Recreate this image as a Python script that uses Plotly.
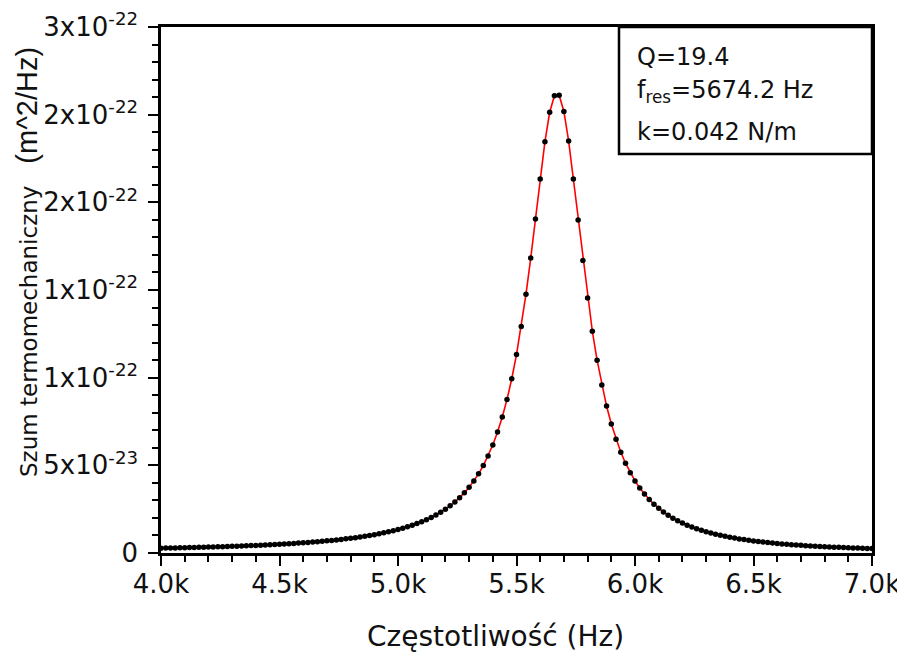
import plotly.graph_objects as go

# ---------------- data ----------------
freq_hz = list(range(4000, 7001, 20))  # sampling grid, 20 Hz step
psd_e22 = [
    0.0274, 0.0279, 0.0285, 0.0291, 0.0297, 0.0303, 0.0310, 0.0316, 0.0323, 0.0331,
    0.0338, 0.0346, 0.0354, 0.0363, 0.0372, 0.0381, 0.0391, 0.0401, 0.0411, 0.0422,
    0.0434, 0.0446, 0.0458, 0.0471, 0.0485, 0.0500, 0.0515, 0.0531, 0.0548, 0.0565,
    0.0584, 0.0603, 0.0624, 0.0646, 0.0669, 0.0694, 0.0720, 0.0747, 0.0777, 0.0808,
    0.0841, 0.0876, 0.0914, 0.0955, 0.0998, 0.1045, 0.1095, 0.1149, 0.1207, 0.1270,
    0.1338, 0.1412, 0.1493, 0.1581, 0.1677, 0.1782, 0.1898, 0.2025, 0.2166, 0.2323,
    0.2497, 0.2691, 0.2908, 0.3154, 0.3431, 0.3745, 0.4102, 0.4514, 0.4987, 0.5529,
    0.6161, 0.6895, 0.7753, 0.8761, 0.9938, 1.1317, 1.2918, 1.4755, 1.6819, 1.9051,
    2.1334, 2.3462, 2.5136, 2.6082, 2.6109, 2.5184, 2.3496, 2.1332, 1.8987, 1.6679,
    1.4546, 1.2647, 1.0999, 0.9583, 0.8380, 0.7357, 0.6490, 0.5751, 0.5120, 0.4579,
    0.4113, 0.3710, 0.3359, 0.3053, 0.2785, 0.2548, 0.2339, 0.2154, 0.1988, 0.1840,
    0.1707, 0.1588, 0.1480, 0.1382, 0.1293, 0.1212, 0.1138, 0.1070, 0.1008, 0.0951,
    0.0899, 0.0850, 0.0805, 0.0764, 0.0725, 0.0689, 0.0656, 0.0625, 0.0596, 0.0569,
    0.0543, 0.0519, 0.0497, 0.0476, 0.0456, 0.0438, 0.0420, 0.0403, 0.0388, 0.0373,
    0.0359, 0.0345, 0.0333, 0.0321, 0.0309, 0.0299, 0.0288, 0.0279, 0.0269, 0.0260,
    0.0252,
]
SCALE = 1e-22
psd = [v * SCALE for v in psd_e22]

x_tickvals = [4000, 4500, 5000, 5500, 6000, 6500, 7000]
x_ticktext = ["4.0k", "4.5k", "5.0k", "5.5k", "6.0k", "6.5k", "7.0k"]
y_tickvals = [0, 5e-23, 1e-22, 1.5e-22, 2e-22, 2.5e-22, 3e-22]
y_ticktext = ["0", "5x10<sup>-23</sup>", "1x10<sup>-22</sup>", "1x10<sup>-22</sup>",
              "2x10<sup>-22</sup>", "2x10<sup>-22</sup>", "3x10<sup>-22</sup>"]

info_lines = ["Q=19.4", "f<sub>res</sub>=5674.2 Hz", "k=0.042 N/m"]

# ---------------- geometry (page pixels; page body has an 8px margin) ----------------
OFF = 8
W, H = 905 - OFF, 658 - OFF
PL, PR, PT, PB = 161, 872, 27, 553          # plot area in page pixels
L, T = PL - OFF, PT - OFF
R, B = W - (PR - OFF), H - (PB - OFF)
PW, PH = PR - PL, PB - PT

def px(xp):
    return (xp - PL) / PW

def py(yp):
    return (PB - yp) / PH

DEJAVU = "DejaVu Sans, Verdana, sans-serif"
INK = "#111111"

fig = go.Figure()
fig.add_trace(go.Scatter(x=freq_hz, y=psd, mode="lines",
                         line=dict(color="#ff0000", width=1.6),
                         hoverinfo="skip", showlegend=False))
fig.add_trace(go.Scatter(x=freq_hz, y=psd, mode="markers",
                         marker=dict(color="black", size=5.5),
                         showlegend=False))

axis_common = dict(showline=True, linecolor="black", linewidth=2.5, mirror=True,
                   ticks="outside", ticklen=10, tickwidth=2, tickcolor="black",
                   showgrid=False, zeroline=False, ticklabeloverflow="allow",
                   automargin=False,
                   tickfont=dict(family=DEJAVU, size=26, color=INK))

fig.update_xaxes(range=[4000, 7000], tickmode="array", tickvals=x_tickvals,
                 ticktext=x_ticktext, ticklabelstandoff=-4,
                 minor=dict(ticks="outside", ticklen=6, tickwidth=2, tickcolor="black",
                            dtick=100, tick0=4000, showgrid=False),
                 **axis_common)
fig.update_yaxes(range=[0, 3e-22], tickmode="array", tickvals=y_tickvals,
                 ticktext=y_ticktext, ticklabelstandoff=5,
                 minor=dict(ticks="outside", ticklen=6, tickwidth=2, tickcolor="black",
                            dtick=1e-23, tick0=0, showgrid=False),
                 **axis_common)

# info box
fig.add_shape(type="rect", xref="paper", yref="paper",
              x0=px(619), x1=1, y0=py(154), y1=1,
              line=dict(color="black", width=2.5), fillcolor="white", layer="above")
for txt, yc in zip(info_lines, [57, 91, 132]):
    fig.add_annotation(text=txt, xref="paper", yref="paper", x=px(635), y=py(yc),
                       xanchor="left", yanchor="middle", showarrow=False,
                       font=dict(family=DEJAVU, size=24, color=INK))

# axis titles
fig.add_annotation(text="Częstotliwość (Hz)", xref="paper", yref="paper",
                   x=px(495), y=py(636), xanchor="center", yanchor="middle",
                   showarrow=False, font=dict(family=DEJAVU, size=28, color=INK))
fig.add_annotation(text="Szum termomechaniczny&nbsp;&nbsp;&nbsp;"
                        "<span style='font-family:Liberation Sans, Arial;font-size:29px'>(m^2/Hz)</span>",
                   xref="paper", yref="paper", x=px(27), y=py(262),
                   xanchor="center", yanchor="middle", textangle=-90,
                   showarrow=False, font=dict(family=DEJAVU, size=23, color=INK))

fig.update_layout(width=W, height=H, margin=dict(l=L, r=R, t=T, b=B),
                  paper_bgcolor="white", plot_bgcolor="white")

fig.write_html("out.html")
